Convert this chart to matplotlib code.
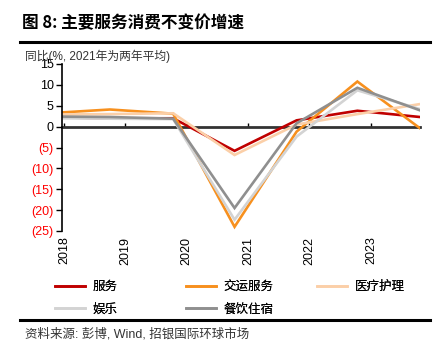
import matplotlib
matplotlib.use("Agg")
import matplotlib.pyplot as plt

plt.rcParams['font.family'] = ['Liberation Sans', 'Noto Sans CJK SC', 'DejaVu Sans']

# data (x = position in years on the time axis)
periods = [2017.97, 2018.75, 2019.78, 2020.78, 2021.79, 2022.78, 2023.8]
years = [2018, 2019, 2020, 2021, 2022, 2023]
services = [2.2, 2.0, 2.0, -5.8, 1.5, 3.8, 2.3]
transport = [3.4, 4.1, 3.1, -24.0, -1.2, 10.8, -0.4]
medical = [2.9, 3.0, 3.2, -6.8, 0.5, 3.0, 5.4]
entertainment = [2.0, 1.9, 1.8, -22.3, -2.4, 8.7, 4.2]
catering = [2.4, 2.3, 1.9, -19.5, 0.8, 9.3, 3.9]
yticks = [15, 10, 5, 0, -5, -10, -15, -20, -25]

fig = plt.figure(figsize=(4.42, 3.61), dpi=100)
ax = fig.add_axes([62 / 442, 1 - 231 / 361, (420 - 62) / 442, (231 - 64) / 361])

series = [
    ("服务", services, "#C00000"),
    ("交运服务", transport, "#F7901E"),
    ("医疗护理", medical, "#FBCFA8"),
    ("娱乐", entertainment, "#D3D3D3"),
    ("餐饮住宿", catering, "#8F8F8F"),
]
lines = []
for name, vals, col in series:
    ln, = ax.plot(periods, vals, color=col, lw=1.9, label=name, solid_joinstyle='miter')
    lines.append(ln)

ax.set_xlim(periods[0], periods[-1])
ax.set_ylim(-25, 15)
ax.set_yticks(yticks)
ax.set_yticklabels([str(v) if v >= 0 else "(%d)" % -v for v in yticks], fontsize=9)
for lab, v in zip(ax.get_yticklabels(), yticks):
    if v < 0:
        lab.set_color('#FF0000')
ax.tick_params(axis='y', direction='out', length=4, width=1, pad=2)

for s in ['top', 'right', 'bottom']:
    ax.spines[s].set_visible(False)
ax.spines['left'].set_linewidth(1.2)

ax.set_xticks(years)
ax.set_xticklabels([str(y) for y in years], rotation=90, fontsize=9)
ax.tick_params(axis='x', length=0, pad=4)

# axis line at zero
zero = ax.secondary_xaxis(25 / 40)
zero.set_xticks(years)
zero.tick_params(axis='x', direction='out', length=3, width=1, labelbottom=False, labeltop=False)
zero.spines['bottom'].set_linewidth(2)
zero.spines['bottom'].set_color('#333333')
zero.spines['top'].set_linewidth(2)
zero.spines['top'].set_color('#333333')

# legend: three columns, filled row by row
columns = [[lines[0], lines[3]], [lines[1], lines[4]], [lines[2]]]
col_x = [50, 181, 312]
for hs, x0 in zip(columns, col_x):
    leg = fig.legend(handles=hs, loc='upper left', bbox_to_anchor=(x0 / 442, 1 - 275 / 361),
                     ncol=1, frameon=False, handlelength=2.4, labelspacing=0.75,
                     handletextpad=0.6, borderaxespad=0,
                     prop={'family': ['Noto Sans CJK SC'], 'size': 9})
    fig.add_artist(leg)

fig.text(22 / 442, 1 - 23 / 361, "图 8: 主要服务消费不变价增速", fontsize=12, fontweight='bold',
         va='center', family=['Noto Sans CJK SC'])
fig.add_artist(plt.Line2D([20 / 442, 430 / 442], [1 - 42 / 361] * 2, color='black', lw=2.2))
fig.text(25 / 442, 1 - 56 / 361, "同比(%, 2021年为两年平均)", fontsize=8.5, va='center',
         family=['Liberation Sans', 'Noto Sans CJK SC'], color='#333333')
fig.add_artist(plt.Line2D([20 / 442, 430 / 442], [1 - 320 / 361] * 2, color='black', lw=2.2))
fig.text(25 / 442, 1 - 334 / 361, "资料来源: 彭博, Wind, 招银国际环球市场", fontsize=9, va='center',
         family=['Liberation Sans', 'Noto Sans CJK SC'], color='#333333')

fig.savefig("out.png", dpi=100)
